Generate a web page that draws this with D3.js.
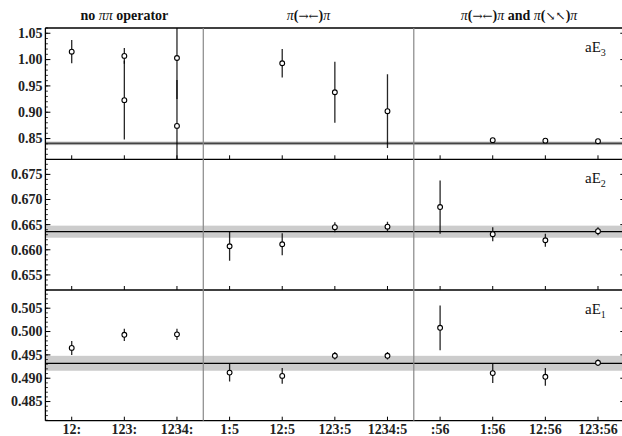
<!DOCTYPE html>
<html>
<head>
<meta charset="utf-8">
<script src="https://cdnjs.cloudflare.com/ajax/libs/d3/7.8.5/d3.min.js"></script>
<style>
body { margin: 0; background: #fff; }
text { font-family: "Liberation Serif", "DejaVu Serif", serif; }
</style>
</head>
<body>
<div id="chart"></div>
<script>
var categories = ["12:", "123:", "1234:", "1:5", "12:5", "123:5", "1234:5", ":56", "1:56", "12:56", "123:56"];
var groupTitles = ["no ππ operator", "π(→←)π", "π(→←)π and π(↘↖)π"];
var groupCenters = ["123:", "12:5", "1:56"];   // category the title is centred over (offset applied below)
var separators = ["1234:", "1234:5"];          // line drawn right after these

// aE3 panel
var e3Cat = ["12:", "123:", "123:", "1234:", "1234:", "12:5", "123:5", "1234:5", "1:56", "12:56", "123:56"];
var e3Val = [1.015, 1.007, 0.923, 1.003, 0.874, 0.993, 0.938, 0.902, 0.847, 0.846, 0.845];
var e3Err = [0.022, 0.015, 0.075, 0.078, 0.087, 0.027, 0.058, 0.070, 0.002, 0.002, 0.002];
var e3Band = [0.841, 0.0035];
var e3Ticks = [0.85, 0.90, 0.95, 1.00, 1.05];

// aE2 panel
var e2Cat = ["1:5", "12:5", "123:5", "1234:5", ":56", "1:56", "12:56", "123:56"];
var e2Val = [0.6607, 0.6611, 0.6645, 0.6646, 0.6685, 0.6631, 0.6619, 0.6637];
var e2Err = [0.0029, 0.0022, 0.0010, 0.0010, 0.0053, 0.0014, 0.0013, 0.0008];
var e2Band = [0.6636, 0.0012];
var e2Ticks = [0.655, 0.660, 0.665, 0.670, 0.675];

// aE1 panel
var e1Cat = ["12:", "123:", "1234:", "1:5", "12:5", "123:5", "1234:5", ":56", "1:56", "12:56", "123:56"];
var e1Val = [0.4965, 0.4993, 0.4994, 0.4912, 0.4905, 0.4948, 0.4948, 0.5008, 0.4911, 0.4903, 0.4933];
var e1Err = [0.0015, 0.0013, 0.0012, 0.0019, 0.0017, 0.0008, 0.0008, 0.0048, 0.0021, 0.0019, 0.0007];
var e1Band = [0.4932, 0.0016];
var e1Ticks = [0.485, 0.490, 0.495, 0.500, 0.505];

var width = 622, height = 436;
var left = 45.4, right = 624.3;

var svg = d3.select("#chart").append("svg")
    .attr("width", width)
    .attr("height", height);

var x = d3.scaleLinear()
    .domain([-0.5, categories.length - 0.5])
    .range([left, right]);
function xc(c) { return x(categories.indexOf(c)); }

var panels = [
    {name: "3", cat: e3Cat, val: e3Val, err: e3Err, band: e3Band, ticks: e3Ticks, minor: 0.01, fmt: ".2f",
     domain: [0.8106, 1.060], top: 28, bottom: 159.3},
    {name: "2", cat: e2Cat, val: e2Val, err: e2Err, band: e2Band, ticks: e2Ticks, minor: 0.001, fmt: ".3f",
     domain: [0.652, 0.678], top: 159.3, bottom: 290},
    {name: "1", cat: e1Cat, val: e1Val, err: e1Err, band: e1Band, ticks: e1Ticks, minor: 0.001, fmt: ".3f",
     domain: [0.4809, 0.5089], top: 290, bottom: 420.7}
];

panels.forEach(function(p, k) {
    var y = d3.scaleLinear().domain(p.domain).range([p.bottom, p.top]);
    var g = svg.append("g");

    g.append("clipPath").attr("id", "clip" + k)
        .append("rect")
        .attr("x", left).attr("y", p.top)
        .attr("width", right - left).attr("height", p.bottom - p.top);

    var inner = g.append("g").attr("clip-path", "url(#clip" + k + ")");

    // reference band
    inner.append("rect")
        .attr("x", left).attr("width", right - left)
        .attr("y", y(p.band[0] + p.band[1]))
        .attr("height", y(p.band[0] - p.band[1]) - y(p.band[0] + p.band[1]))
        .attr("fill", "#cccccc");
    inner.append("line")
        .attr("x1", left).attr("x2", right)
        .attr("y1", y(p.band[0])).attr("y2", y(p.band[0]))
        .attr("stroke", k == 0 ? "#444" : "#000")
        .attr("stroke-width", k == 0 ? 1.8 : 1.3);

    var pts = p.val.map(function(v, i) { return {c: p.cat[i], v: v, e: p.err[i]}; });

    inner.selectAll(".bar").data(pts).enter().append("line")
        .attr("x1", function(d) { return xc(d.c); })
        .attr("x2", function(d) { return xc(d.c); })
        .attr("y1", function(d) { return y(d.v + d.e); })
        .attr("y2", function(d) { return y(d.v - d.e); })
        .attr("stroke", "#000")
        .attr("stroke-width", 1.3)
        .attr("stroke-opacity", 0.85);

    inner.selectAll(".pt").data(pts).enter().append("circle")
        .attr("cx", function(d) { return xc(d.c); })
        .attr("cy", function(d) { return y(d.v); })
        .attr("r", 2.4)
        .attr("fill", "#fff")
        .attr("stroke", "#000")
        .attr("stroke-width", 1.1);

    // left axis, ticks inward
    var yAxis = g.append("g")
        .attr("transform", "translate(" + left + ",0)");
    var minorTicks = d3.range(Math.ceil(p.domain[0] / p.minor), Math.floor(p.domain[1] / p.minor) + 1)
        .map(function(i) { return i * p.minor; });
    yAxis.selectAll(".minor").data(minorTicks).enter().append("line")
        .attr("x1", 0).attr("x2", 2.5)
        .attr("y1", function(d) { return y(d); }).attr("y2", function(d) { return y(d); })
        .attr("stroke", "#000").attr("stroke-width", 0.8);
    yAxis.selectAll(".major").data(p.ticks).enter().append("line")
        .attr("x1", 0).attr("x2", 5)
        .attr("y1", function(d) { return y(d); }).attr("y2", function(d) { return y(d); })
        .attr("stroke", "#000").attr("stroke-width", 1);
    yAxis.selectAll(".lab").data(p.ticks).enter().append("text")
        .attr("x", -3)
        .attr("y", function(d) { return y(d); })
        .attr("dy", "0.35em")
        .attr("text-anchor", "end")
        .attr("font-size", 14)
        .attr("font-weight", "bold")
        .attr("fill", "#222")
        .text(d3.format(p.fmt));

    // right side ticks (frame itself is just off the page)
    g.selectAll(".rt").data(p.ticks).enter().append("line")
        .attr("x1", right - 4).attr("x2", right)
        .attr("y1", function(d) { return y(d); }).attr("y2", function(d) { return y(d); })
        .attr("stroke", "#000").attr("stroke-width", 1);

    // bottom ticks
    g.selectAll(".xt").data(categories).enter().append("line")
        .attr("x1", function(d) { return xc(d); }).attr("x2", function(d) { return xc(d); })
        .attr("y1", p.bottom - 4).attr("y2", p.bottom)
        .attr("stroke", "#000").attr("stroke-width", 1);

    // panel label aE_n
    var lab = g.append("text")
        .attr("x", 585).attr("y", p.top + 24)
        .attr("font-size", 15)
        .attr("fill", "#111");
    lab.append("tspan").text("aE");
    lab.append("tspan").attr("font-size", 10).attr("dy", 4).text(p.name);
});

// frame lines
svg.append("line")
    .attr("x1", left).attr("x2", left).attr("y1", 28).attr("y2", 420.7)
    .attr("stroke", "#000").attr("stroke-width", 1.3);
svg.selectAll(".hf").data([28, 159.3, 290, 420.7]).enter().append("line")
    .attr("x1", left).attr("x2", right)
    .attr("y1", function(d) { return d; }).attr("y2", function(d) { return d; })
    .attr("stroke", "#000").attr("stroke-width", 1.3);

// group separators
svg.selectAll(".sep").data(separators).enter().append("line")
    .attr("x1", function(d) { return xc(d) + (x(1) - x(0)) / 2; })
    .attr("x2", function(d) { return xc(d) + (x(1) - x(0)) / 2; })
    .attr("y1", 28).attr("y2", 420.7)
    .attr("stroke", "#888").attr("stroke-width", 1.2);

// x labels
svg.selectAll(".xl").data(categories).enter().append("text")
    .attr("x", function(d) { return xc(d); })
    .attr("y", 434)
    .attr("text-anchor", "middle")
    .attr("font-size", 14)
    .attr("font-weight", "bold")
    .attr("fill", "#222")
    .text(function(d) { return d; });

// group titles: pi in italics, arrows in a lighter font
var offsets = [0, 0.5, 0.5];
groupTitles.forEach(function(t, i) {
    var tx = svg.append("text")
        .attr("x", xc(groupCenters[i]) + offsets[i] * (x(1) - x(0)))
        .attr("y", 20)
        .attr("text-anchor", "middle")
        .attr("font-size", 14)
        .attr("fill", "#111");
    t.split(/(π|[→←↘↖]+)/).forEach(function(s) {
        if (s === "") return;
        var ts = tx.append("tspan").text(s);
        if (s === "π") {
            ts.attr("font-style", "italic");
        } else if (/[→←↘↖]/.test(s)) {
            ts.attr("font-family", "DejaVu Serif").attr("font-size", 12);
        } else {
            ts.attr("font-weight", "bold");
        }
    });
});
</script>
</body>
</html>
